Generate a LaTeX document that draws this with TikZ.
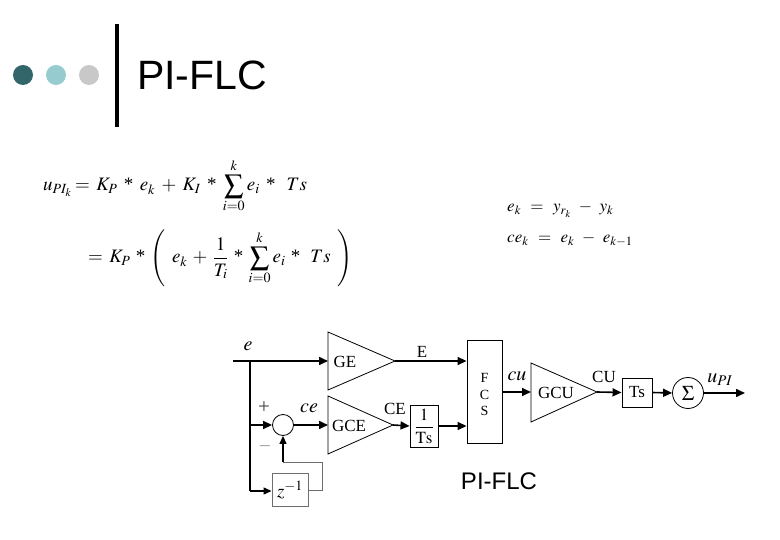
\documentclass[tikz,border=0pt]{standalone}
\usepackage{mathptmx}
\usepackage[no-math]{fontspec}
\setmainfont{Liberation Serif}
\setsansfont{Liberation Sans}
\usetikzlibrary{arrows.meta}
\definecolor{dteal}{RGB}{51,102,106}
\definecolor{lteal}{RGB}{150,204,208}
\definecolor{lgray}{RGB}{200,200,200}
\definecolor{fbgray}{RGB}{110,110,110}
\newcommand{\mstar}{\mathbin{\mbox{*}}}
\newcommand{\eqsp}{\medmuskip=6mu\thickmuskip=6mu}
\newcommand{\eqspb}{\medmuskip=5mu\thickmuskip=6mu}
\newcommand{\eqssp}{\medmuskip=8mu\thickmuskip=10mu}
\begin{document}
\begin{tikzpicture}[x=1pt,y=-1pt,
  sig/.style={line width=1.6pt,-{Triangle[length=9pt,width=8pt]}},
  wire/.style={line width=1.3pt},
  fb/.style={line width=0.8pt,draw=fbgray},
  blk/.style={draw,line width=0.9pt,inner sep=0pt},
  lbl/.style={font=\fontsize{17}{17}\selectfont, inner sep=0pt},
  ilbl/.style={font=\fontsize{20}{20}\selectfont, inner sep=0pt},
  tri/.style={draw, line width=0.8pt},
  eq/.style={font=\fontsize{19}{21}\selectfont, inner sep=0pt},
  eqs/.style={font=\fontsize{17}{19}\selectfont, inner sep=0pt}
]
\useasboundingbox (0,0) rectangle (780,540);
% title
\fill[dteal] (23,75) circle[radius=10pt];
\fill[lteal] (56,75) circle[radius=10pt];
\fill[lgray] (89,75) circle[radius=10pt];
\draw[line width=3.5pt] (117,24) -- (117,127);
\node[anchor=base west, inner sep=0pt, font=\sffamily\fontsize{41}{41}\selectfont] (title) at (137,90) {PI-FLC};
% equations
\node[eq, anchor=base east] (u) at (72,191) {$u_{PI_k}$};
\node[eq, anchor=base west] (l1) at (75,191) {$\eqsp= K_P \mstar e_k + K_I \mstar \displaystyle\sum_{i=0}^{k} e_i \mstar\ Ts$};
\node[eq, anchor=base west] (l2) at (88,263) {$\eqspb= K_P \mstar \left(\; e_k + \displaystyle\frac{1}{T_i} \mstar \sum_{i=0}^{k} e_i \mstar\ Ts \;\right)$};
\node[eqs, anchor=base west] (r1) at (507,212) {$\eqssp e_k = y_{r_k} - y_k$};
\node[eqs, anchor=base west] (r2) at (507,243) {$\eqssp ce_k = e_k - e_{k-1}$};
% block diagram
\coordinate (ein) at (233,361);
\coordinate (br1) at (250,361);
\coordinate (br2) at (250,425);
\coordinate (br3) at (250,491);
% GE
\draw[tri] (328,332) -- (395,361) -- (328,390) -- cycle;
\coordinate (geL) at (328,361);
\coordinate (geT) at (395,361);
\node[lbl] (ge) at (345,362) {GE};
% GCE
\draw[tri] (328,396) -- (393,425) -- (328,454) -- cycle;
\coordinate (gceL) at (328,425);
\coordinate (gceT) at (393,425);
\node[lbl] (gce) at (349,426) {GCE};
% GCU
\draw[tri] (531,363) -- (597,392) -- (531,422) -- cycle;
\coordinate (gcuL) at (531,392);
\coordinate (gcuT) at (597,392);
\node[lbl] (gcu) at (556,393) {GCU};
% sum circle
\node[circle, draw, line width=0.8pt, minimum size=21pt, inner sep=0pt] (s1) at (283,425) {};
\node[font=\fontsize{21}{21}\selectfont, inner sep=0pt, text=black!75] (plus) at (264,408) {+};
\node[lbl, text=fbgray] (minus) at (265,446) {$-$};
% 1/Ts
\node[blk, minimum width=28pt, minimum height=42pt] (its) at (424,426) {};
\node[inner sep=0pt, font=\fontsize{17}{17}\selectfont] (itsl) at (its.center) {$\displaystyle\frac{1}{\mathrm{Ts}}$};
% FCS
\node[blk, minimum width=35pt, minimum height=103pt] (fcs) at (484.5,391.5) {};
\node[inner sep=0pt, font=\fontsize{14}{14}\selectfont] (fF) at (484.5,378) {F};
\node[inner sep=0pt, font=\fontsize{14}{14}\selectfont] (fC) at (484.5,395) {C};
\node[inner sep=0pt, font=\fontsize{14}{14}\selectfont] (fS) at (484.5,411) {S};
% Ts
\node[blk, minimum width=30pt, minimum height=29pt] (ts) at (637,392.5) {};
\node[lbl] (tsl) at (ts.center) {Ts};
% Sigma circle
\node[circle, draw, line width=0.8pt, minimum size=31pt, inner sep=0pt, font=\fontsize{21}{21}\selectfont] (s2) at (688,393) {$\Sigma$};
\coordinate (uout) at (745,393);
% z^-1
\node[draw=fbgray, line width=0.9pt, minimum width=36pt, minimum height=33pt, inner sep=0pt, font=\fontsize{19}{19}\selectfont] (z) at (290,490) {$z^{-1}$};
\coordinate (fb1) at (322,490);
\coordinate (fb2) at (322,462);
\coordinate (fb3) at (283,462);
% connectors
\draw[sig] (ein) -- (geL);
\draw[wire] (br1) -- (br3);
\draw[sig] (br2) -- (s1.west);
\draw[line width=1.2pt,-{Triangle[length=8pt,width=7pt]}] (br3) -- (z.west |- br3);
\draw[sig] (s1.east) -- (gceL);
\draw[sig] (geT) -- (geT -| fcs.west);
\draw[sig] (gceT) -- (its.west);
\draw[sig] (its.east) -- (its.east -| fcs.west);
\draw[sig] (fcs.east |- gcuL) -- (gcuL);
\draw[sig] (gcuT) -- (ts.west);
\draw[sig] (ts.east) -- (s2.west);
\draw[sig] (s2.east) -- (uout);
\draw[fb] (z.east) -- (fb1) -- (fb2) -- (fb3);
\draw[line width=1.2pt,-{Triangle[length=8pt,width=7pt]}] (fb3) -- (s1.south);
% labels
\node[ilbl] (le) at (248,346) {$e$};
\node[lbl] (lE) at (422,352) {E};
\node[ilbl] (lce) at (309,408) {$ce$};
\node[lbl] (lCE) at (395,409) {CE};
\node[ilbl] (lcu) at (517,376) {$cu$};
\node[lbl] (lCU) at (604,377) {CU};
\node[ilbl] (lu) at (720,380) {$u_{PI}$};
\node[inner sep=0pt, font=\sffamily\fontsize{24}{24}\selectfont] (cap) at (499,481) {PI-FLC};
\end{tikzpicture}
\end{document}
